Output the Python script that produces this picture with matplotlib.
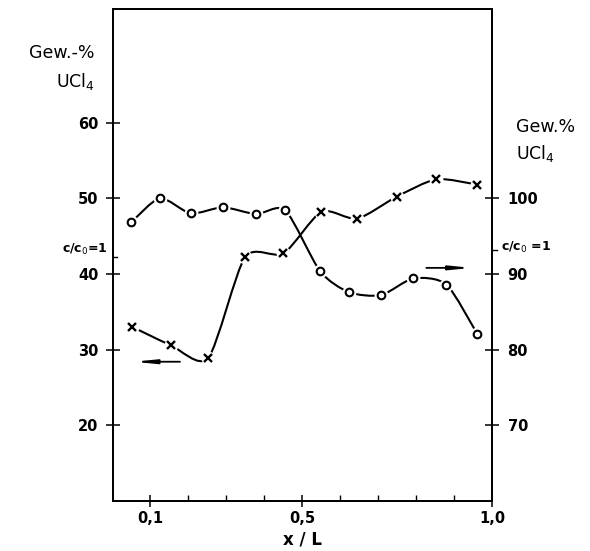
import matplotlib
matplotlib.use("Agg")
import matplotlib.pyplot as plt
import numpy as np
from matplotlib.path import Path
from matplotlib.patches import PathPatch

# ---- data ----
x_cross = [0.052, 0.153, 0.252, 0.349, 0.450, 0.550, 0.644, 0.748, 0.853, 0.960]
y_cross = [33.0, 30.6, 28.9, 42.2, 42.7, 48.2, 47.3, 50.2, 52.5, 51.8]          # left axis (Gew.-% UCl4)

x_circ = [0.049, 0.125, 0.206, 0.291, 0.378, 0.455, 0.546, 0.622, 0.707, 0.792, 0.879, 0.960]
y_circ = [96.8, 100.0, 98.0, 98.8, 97.9, 98.4, 90.4, 87.6, 87.2, 89.4, 88.6, 82.1]  # right axis (Gew.% UCl4)

left_ticks = [20, 30, 40, 50, 60]
right_ticks = [70, 80, 90, 100]
x_major = [0.1, 0.5, 1.0]
x_major_labels = ["0,1", "0,5", "1,0"]
x_minor = [0.2, 0.3, 0.4, 0.6, 0.7, 0.8, 0.9]
c0_left = 42.3
c0_right = 93.2

W, H = 590, 551
fig = plt.figure(figsize=(W / 100, H / 100), dpi=100)
ax = fig.add_axes([112.5 / W, 1 - 501 / H, (492.3 - 112.5) / W, (501 - 9) / H])
ax2 = ax.twinx()

ax.set_xlim(0, 1.0)
ax.set_ylim(10, 75)
ax2.set_ylim(60, 125)

for a in (ax, ax2):
    for s in a.spines.values():
        s.set_linewidth(1.3)
        s.set_color("black")

fnt = "DejaVu Sans"

ax.set_yticks(left_ticks)
ax.set_yticklabels([str(t) for t in left_ticks], fontsize=10.5, fontweight="bold", family=fnt)
ax.tick_params(axis="y", direction="inout", length=10, width=1.1, pad=5)
ax2.set_yticks(right_ticks)
ax2.set_yticklabels([str(t) for t in right_ticks], fontsize=10.5, fontweight="bold", family=fnt)
ax2.tick_params(axis="y", direction="inout", length=10, width=1.1, pad=6)

ax.set_xticks(x_major)
ax.set_xticklabels(x_major_labels, fontsize=10.5, fontweight="bold", family=fnt)
ax.set_xticks(x_minor, minor=True)
ax.tick_params(axis="x", which="major", direction="inout", length=9, width=1.1, pad=3)
ax.tick_params(axis="x", which="minor", direction="in", length=4, width=1.0)
ax.tick_params(axis="y", which="minor", left=False)

ax.set_xlabel("x / L", fontsize=12, fontweight="bold", family=fnt, labelpad=3)


def smooth_path(xs, ys, k=8.0):
    P = np.column_stack([xs, ys])
    n = len(P)
    verts = [P[0]]
    codes = [Path.MOVETO]
    for i in range(n - 1):
        p0 = P[i - 1] if i > 0 else P[i]
        p1 = P[i]
        p2 = P[i + 1]
        p3 = P[i + 2] if i + 2 < n else P[i + 1]
        c1 = p1 + (p2 - p0) / k
        c2 = p2 - (p3 - p1) / k
        verts += [c1, c2, p2]
        codes += [Path.CURVE4] * 3
    return Path(verts, codes)


ax.add_patch(PathPatch(smooth_path(x_cross, y_cross), fill=False, lw=1.5, color="black", zorder=2))
ax.plot(x_cross, y_cross, ls="none", marker="o", ms=9, mfc="white", mec="white", zorder=3)
ax.plot(x_cross, y_cross, ls="none", marker="x", ms=5.5, mew=1.7, color="black", zorder=4)

ax2.add_patch(PathPatch(smooth_path(x_circ, y_circ), fill=False, lw=1.5, color="black", zorder=2))
ax2.plot(x_circ, y_circ, ls="none", marker="o", ms=9, mfc="white", mec="white", zorder=3)
ax2.plot(x_circ, y_circ, ls="none", marker="o", ms=5.5, mfc="white", mec="black", mew=1.5, zorder=4)

# arrows indicating which axis each curve belongs to
ax.annotate("", xy=(0.049, 28.4), xytext=(0.185, 28.4),
            arrowprops=dict(arrowstyle="-|>,head_length=1.2,head_width=0.12", lw=1.3, color="black"))
ax2.annotate("", xy=(0.953, 90.8), xytext=(0.819, 90.8),
            arrowprops=dict(arrowstyle="-|>,head_length=1.2,head_width=0.12", lw=1.3, color="black"))

# c/c0 = 1 marks
ax.plot([0, 0.012], [c0_left, c0_left], color="black", lw=1.0, clip_on=False)
ax2.plot([1.0, 1.012], [c0_right, c0_right], color="black", lw=1.0, clip_on=False)
fig.text(108 / W, 1 - 249 / H, "c/c$_0$=1", ha="right", va="center", fontsize=9, fontweight="bold", family=fnt)
fig.text(501 / W, 1 - 247 / H, "c/c$_0$ =1", ha="left", va="center", fontsize=9, fontweight="bold", family=fnt)

# axis titles
fig.text(95 / W, 1 - 53 / H, "Gew.-%", ha="right", va="center", fontsize=12.5, family=fnt)
fig.text(95 / W, 1 - 81 / H, "UCl$_4$", ha="right", va="center", fontsize=12.5, family=fnt)
fig.text(516 / W, 1 - 127 / H, "Gew.%", ha="left", va="center", fontsize=12.5, family=fnt)
fig.text(516 / W, 1 - 154 / H, "UCl$_4$", ha="left", va="center", fontsize=12.5, family=fnt)

fig.savefig("out.png", dpi=100)
